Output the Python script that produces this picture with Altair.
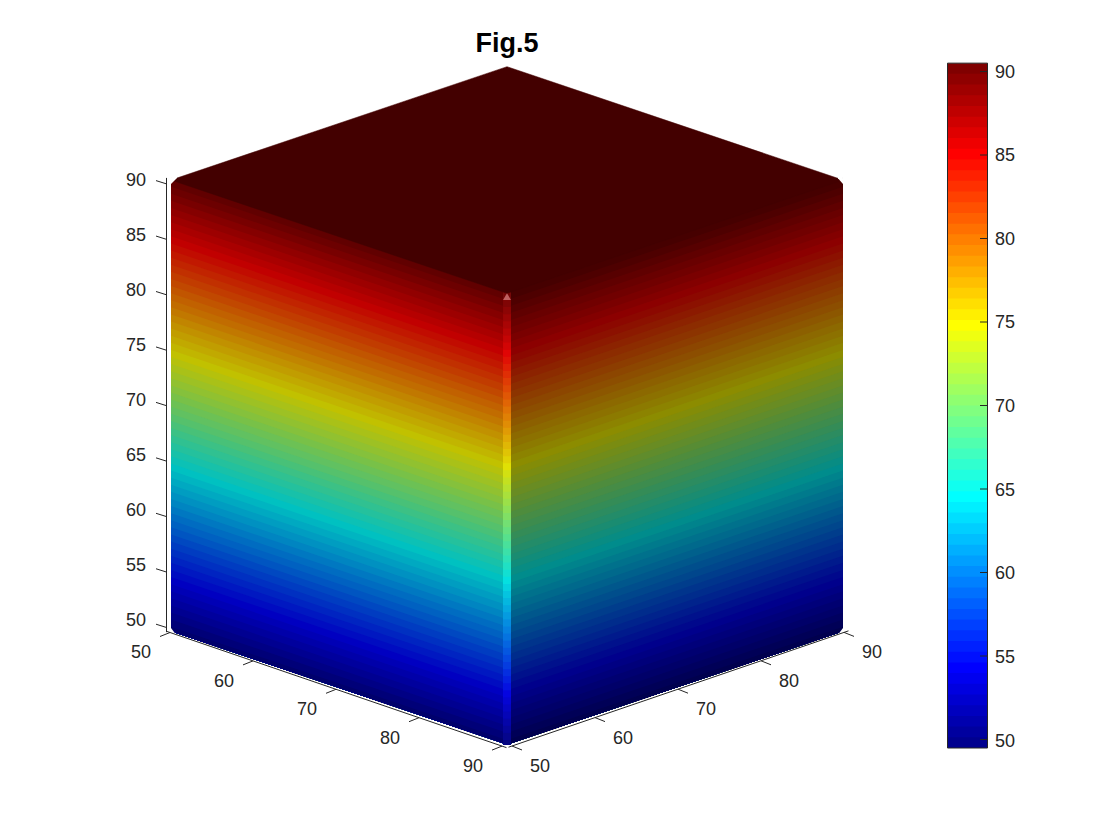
import altair as alt
import pandas as pd

JET = ["#00008f","#00009f","#0000af","#0000bf","#0000cf","#0000df","#0000ef","#0000ff",
"#0010ff","#0020ff","#0030ff","#0040ff","#0050ff","#0060ff","#0070ff","#0080ff",
"#008fff","#009fff","#00afff","#00bfff","#00cfff","#00dfff","#00efff","#00ffff",
"#10ffef","#20ffdf","#30ffcf","#40ffbf","#50ffaf","#60ff9f","#70ff8f","#80ff80",
"#8fff70","#9fff60","#afff50","#bfff40","#cfff30","#dfff20","#efff10","#ffff00",
"#ffef00","#ffdf00","#ffcf00","#ffbf00","#ffaf00","#ff9f00","#ff8f00","#ff8000",
"#ff7000","#ff6000","#ff5000","#ff4000","#ff3000","#ff2000","#ff1000","#ff0000",
"#ef0000","#df0000","#cf0000","#bf0000","#af0000","#9f0000","#8f0000","#800000"]
LEVELS = [49.58,50.22,50.86,51.50,52.14,52.78,53.42,54.06,54.70,55.34,55.98,56.62,57.26,
57.90,58.54,59.18,59.82,60.46,61.10,61.74,62.38,63.02,63.66,64.30,64.94,65.58,66.22,66.86,
67.50,68.14,68.78,69.42,70.06,70.70,71.34,71.98,72.62,73.26,73.90,74.54,75.18,75.82,76.46,
77.10,77.74,78.38,79.02,79.66,80.30,80.94,81.58,82.22,82.86,83.50,84.14,84.78,85.42,86.06,
86.70,87.34,87.98,88.62,89.26,89.90,90.54]
Z_TICKS = [50,55,60,65,70,75,80,85,90]
XY_TICKS = [50,60,70,80,90]
CB_TICKS = [50,55,60,65,70,75,80,85,90]
CUBE_MIN, CUBE_MAX = 49.76, 90.24
Z_BOTTOM, Z_TOP = 49.8, 90.5
Z_STRIP_TOP = 89.9
Z_UNDER_TOP = 90.8
AXIS_LIM = [49.58, 90.54]
TITLE = "Fig.5"

W, H = 1100, 815
FONT = "Liberation Sans"
INK = "#262626"
X_S = alt.Scale(domain=[8, 8 + W], range=[0, W], nice=False, zero=False)
Y_S = alt.Scale(domain=[8, 8 + H], range=[0, H], nice=False, zero=False)
PX = alt.X("sx:Q", scale=X_S, axis=None)
PY = alt.Y("sy:Q", scale=Y_S, axis=None)


def shade(c, f, w=0.0):
    r, g, b = (int(c[i:i + 2], 16) for i in (1, 3, 5))
    return "#%02x%02x%02x" % tuple(min(255, int(v * f + 255 * w)) for v in (r, g, b))


def sx(xf, yf):
    return f"507+8.3*(({xf}-{CUBE_MAX})+({yf}-{CUBE_MIN}))"


def sy(xf, yf, zf):
    return f"742.5-({zf}-50)*11.09+2.8*(({xf}-{CUBE_MAX})-({yf}-{CUBE_MIN}))"


def bands(xs, ys, factor, white=0.0):
    # painted from the top band down: each band reaches the cube's bottom and the next covers it;
    # the topmost band slips just under the top face so no gap shows along that edge
    rows = []
    for i in range(len(JET) - 1, -1, -1):
        hi = Z_UNDER_TOP if i == len(JET) - 1 else LEVELS[i + 1]
        for a, b in zip(xs, ys):
            rows.append(dict(band=i, X=a, Y=b, lo=Z_BOTTOM, hi=hi, c=shade(JET[i], factor, white)))
    return pd.DataFrame(rows)


def face(df, flat=False):
    px = (str(CUBE_MAX), str(CUBE_MIN)) if flat else ("datum.X", "datum.Y")
    return (alt.Chart(df).mark_area(interpolate="linear", orient="vertical")
            .transform_calculate(sx=sx("datum.X", "datum.Y"),
                                 sy=sy(px[0], px[1], "datum.lo"),
                                 sy2=sy(px[0], px[1], "datum.hi"))
            .encode(x=PX, y=PY, y2="sy2:Q", detail="band:N",
                    fill=alt.Fill("c:N", scale=None)))


left = face(bands([CUBE_MIN, CUBE_MAX - 0.48], [CUBE_MIN, CUBE_MIN], 0.76))
right = face(bands([CUBE_MAX, CUBE_MAX], [CUBE_MIN + 0.48, CUBE_MAX], 0.55))
strip = face(bands([CUBE_MAX - 0.48, CUBE_MAX], [CUBE_MIN, CUBE_MIN + 0.48], 0.86, 0.02), flat=True)

top_df = pd.DataFrame(dict(X=[CUBE_MIN, CUBE_MAX, CUBE_MAX], Y=[CUBE_MIN, CUBE_MIN, CUBE_MAX],
                           Xb=[CUBE_MIN, CUBE_MIN, CUBE_MAX], Yb=[CUBE_MIN, CUBE_MAX, CUBE_MAX]))
top = (alt.Chart(top_df).mark_area(color="#430000", orient="vertical", stroke="#430000", strokeWidth=0.5)
       .transform_calculate(sx=sx("datum.X", "datum.Y"),
                            sy=sy("datum.X", "datum.Y", Z_TOP),
                            sy2=sy("datum.Xb", "datum.Yb", Z_TOP))
       .encode(x=PX, y=PY, y2="sy2:Q"))

# little highlight triangle at the head of the front edge
tip_df = pd.DataFrame(dict(X=[CUBE_MAX - 0.48, CUBE_MAX, CUBE_MAX],
                           Y=[CUBE_MIN, CUBE_MIN, CUBE_MIN + 0.48],
                           z=[Z_STRIP_TOP, Z_TOP, Z_STRIP_TOP]))
tip = (alt.Chart(tip_df).mark_area(color="#bf6060", orient="vertical")
       .transform_calculate(sx=sx("datum.X", "datum.Y"),
                            sy=sy(CUBE_MAX, CUBE_MIN, "datum.z"),
                            sy2=sy(CUBE_MAX, CUBE_MIN, Z_STRIP_TOP))
       .encode(x=PX, y=PY, y2="sy2:Q"))

# softened cube corners, painted in the page colour (z is the cut line, dz how far the mask runs outward)
mask_df = pd.DataFrame(dict(
    corner=["tl", "tl", "tr", "tr", "bl", "bl", "br", "br"],
    X=[CUBE_MIN, CUBE_MIN, CUBE_MAX - 0.6, CUBE_MAX, CUBE_MIN, CUBE_MIN + 0.4, CUBE_MAX, CUBE_MAX],
    Y=[CUBE_MIN, CUBE_MIN + 0.72, CUBE_MAX, CUBE_MAX, CUBE_MIN, CUBE_MIN, CUBE_MAX - 0.4, CUBE_MAX],
    z=[Z_TOP - 0.36, Z_TOP, Z_TOP, Z_TOP - 0.36, Z_BOTTOM + 0.3, Z_BOTTOM, Z_BOTTOM, Z_BOTTOM + 0.3],
    dz=[1, 1, 1, 1, -1, -1, -1, -1]))
masks = (alt.Chart(mask_df).mark_area(color="white", orient="vertical")
         .transform_calculate(sx=sx("datum.X", "datum.Y"),
                              sy=sy("datum.X", "datum.Y", "datum.z"),
                              sy2=sy("datum.X", "datum.Y", "(datum.z+datum.dz)"))
         .encode(x=PX, y=PY, y2="sy2:Q", detail="corner:N"))


def rule(df, x1, y1, x2, y2, w=1.0):
    return (alt.Chart(df).mark_rule(color=INK, strokeWidth=w)
            .transform_calculate(sx=x1, sy=y1, sx2=x2, sy2=y2)
            .encode(x=PX, y=PY, x2="sx2:Q", y2="sy2:Q"))


def text(df, x, y, align="center", size=18, weight="normal", color=INK):
    return (alt.Chart(df).mark_text(font=FONT, fontSize=size, fontWeight=weight, color=color,
                                    align=align, baseline="middle")
            .transform_calculate(sx=x, sy=y, label="''+datum.t")
            .encode(x=PX, y=PY, text="label:N"))


zt = pd.DataFrame(dict(t=Z_TICKS))
ht = pd.DataFrame(dict(t=XY_TICKS))
ct = pd.DataFrame(dict(t=CB_TICKS))
lim = pd.DataFrame(dict(a=[AXIS_LIM[0]], b=[AXIS_LIM[1]]))

# 3-D axes
zy = "627.5-(datum.t-50)*11.09"
z_ticks = rule(zt, "156", zy + "-3.3", "166.5", zy)
z_line = rule(lim, "166.5", "627.5-(datum.a-50)*11.09", "166.5", "627.5-(datum.b-50)*11.09")
z_labels = text(zt, "146", "621.3-(datum.t-50)*11", align="right")

lx = "170+8.3*(datum.t-50)"
ly = "632.5+2.84*(datum.t-50)"
x_ticks = rule(ht, lx, ly, lx + "-10", ly + "+4")
x_line = rule(lim, "170+8.3*(datum.a-50)", "632.5+2.84*(datum.a-50)", "170+8.3*(datum.b-50)", "632.5+2.84*(datum.b-50)")
x_labels = text(ht, "141+8.3*(datum.t-50)", "653+2.85*(datum.t-50)")

rx = "512+8.3*(datum.t-50)"
ry = "746-2.84*(datum.t-50)"
y_ticks = rule(ht, rx, ry, rx + "+10", ry + "+4")
y_line = rule(lim, "512+8.3*(datum.a-50)", "746-2.84*(datum.a-50)", "512+8.3*(datum.b-50)", "746-2.84*(datum.b-50)")
y_labels = text(ht, "540+8.3*(datum.t-50)", "767-2.85*(datum.t-50)")

# colour bar: each band runs to the bar's foot, painted top band first, so no seams show
cb_df = pd.DataFrame(dict(c=JET[::-1], hi=LEVELS[:0:-1], lo=[LEVELS[0]] * len(JET)))
cb = (alt.Chart(cb_df).mark_rect()
      .transform_calculate(sx="947.5", sx2="987.5",
                           sy="748-(datum.lo-49.58)*16.72", sy2="748-(datum.hi-49.58)*16.72")
      .encode(x=PX, x2="sx2:Q", y=PY, y2="sy2:Q", fill=alt.Fill("c:N", scale=None)))
cb_frame = (alt.Chart(lim).mark_rect(fillOpacity=0, stroke=INK, strokeWidth=1)
            .transform_calculate(sx="947.5", sx2="987.5",
                                 sy="748-(datum.a-49.58)*16.72", sy2="748-(datum.b-49.58)*16.72")
            .encode(x=PX, x2="sx2:Q", y=PY, y2="sy2:Q"))
cy = "739.5-(datum.t-50)*16.7"
cb_ticks = rule(ct, "980", cy, "987", cy)
cb_labels = text(ct, "995", "741.7-(datum.t-50)*16.73", align="left")

title = text(pd.DataFrame(dict(t=[TITLE])), "507", "43.5", size=27, weight="bold", color="#000000")

chart = (alt.layer(left, right, strip, top, tip, masks, z_line, z_ticks, z_labels, x_line, x_ticks, x_labels,
                   y_line, y_ticks, y_labels, cb, cb_frame, cb_ticks, cb_labels, title)
         .properties(width=W, height=H, padding=0, background="white",
                     autosize=alt.AutoSizeParams(type="none"))
         .configure_view(stroke=None))
chart.save("out.html", embed_options={"renderer": "svg", "actions": False})
